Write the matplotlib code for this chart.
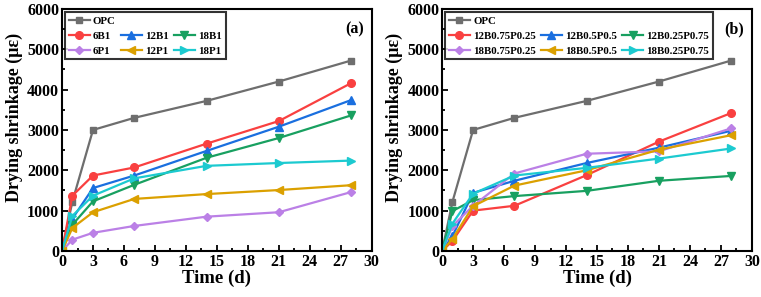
import matplotlib
matplotlib.use("Agg")
import matplotlib.pyplot as plt
from matplotlib.lines import Line2D
from matplotlib.ticker import MultipleLocator

plt.rcParams['font.family'] = ['Liberation Serif', 'DejaVu Serif']
plt.rcParams['font.weight'] = 'bold'

days = [0, 1, 3, 7, 14, 21, 28]

opc = [0, 1220, 3000, 3300, 3720, 4200, 4720]

# panel (a)
b6 = [0, 1370, 1870, 2070, 2660, 3220, 4160]
b12 = [0, 800, 1560, 1870, 2480, 3080, 3740]
b18 = [0, 650, 1230, 1640, 2310, 2800, 3360]
p6 = [0, 280, 450, 620, 850, 960, 1460]
p12 = [0, 570, 960, 1290, 1410, 1510, 1630]
p18 = [0, 870, 1370, 1800, 2110, 2180, 2240]

# panel (b)
b12_075 = [0, 250, 1000, 1120, 1880, 2710, 3420]
b12_05 = [0, 370, 1440, 1740, 2180, 2560, 2980]
b12_025 = [0, 990, 1260, 1360, 1490, 1740, 1860]
b18_075 = [0, 620, 1120, 1920, 2410, 2470, 3040]
b18_05 = [0, 300, 1110, 1620, 2000, 2510, 2870]
b18_025 = [0, 680, 1420, 1870, 2060, 2290, 2540]

labels_a = ['6B1', '12B1', '18B1', '6P1', '12P1', '18P1']
series_a = [b6, b12, b18, p6, p12, p18]
labels_b = ['12B0.75P0.25', '12B0.5P0.5', '12B0.25P0.75',
            '18B0.75P0.25', '18B0.5P0.5', '18B0.25P0.75']
series_b = [b12_075, b12_05, b12_025, b18_075, b18_05, b18_025]

colors = ['#f94040', '#1a6fdf', '#18a060', '#bb80e6', '#dba000', '#1ccad0']
markers = ['o', '^', 'v', 'D', '<', '>']


def draw(ax, labels, series, tag):
    opc_line, = ax.plot(days, opc, color='#6e6e6e', marker='s', ms=5, lw=1.6, label='OPC')
    lines = []
    for lab, ys, c, m in zip(labels, series, colors, markers):
        ms = 4.5 if m == 'D' else 5.5
        l, = ax.plot(days, ys, color=c, marker=m, ms=ms, lw=1.6, label=lab)
        lines.append(l)
    ax.set_xlim(0, 30)
    ax.set_ylim(0, 6000)
    ax.xaxis.set_major_locator(MultipleLocator(3))
    ax.xaxis.set_minor_locator(MultipleLocator(1.5))
    ax.yaxis.set_major_locator(MultipleLocator(1000))
    ax.yaxis.set_minor_locator(MultipleLocator(500))
    ax.tick_params(which='both', direction='in', width=1.3, labelsize=11.5, pad=2)
    ax.tick_params(which='major', length=4)
    ax.tick_params(which='minor', length=2)
    for s in ax.spines.values():
        s.set_linewidth(1.5)
    ax.set_xlabel('Time (d)', fontsize=13.5, fontweight='bold', labelpad=0)
    ax.set_ylabel('Drying shrinkage (\u03bc\u03b5)', fontsize=13, fontweight='bold')
    ax.yaxis.set_label_coords(-0.125, 0.55)
    ax.text(0.975, 0.95, tag, transform=ax.transAxes, ha='right', va='top',
            fontsize=11.5, fontweight='bold')

    # first legend row holds OPC alone
    blank = Line2D([], [], color='none')
    handles = [opc_line, lines[0], lines[3], blank, lines[1], lines[4], blank, lines[2], lines[5]]
    names = ['OPC', labels[0], labels[3], '', labels[1], labels[4], '', labels[2], labels[5]]
    leg = ax.legend(handles, names, ncol=3, loc='upper left', bbox_to_anchor=(0.0, 1.0),
                    fontsize=7.8, frameon=True, fancybox=False, edgecolor='black',
                    handlelength=1.9, handletextpad=0.3, columnspacing=0.5,
                    labelspacing=0.5, borderpad=0.35, borderaxespad=0.3)
    leg.get_frame().set_linewidth(1.5)


fig = plt.figure(figsize=(7.61, 2.97), dpi=100)
ax1 = fig.add_axes([0.0815, 0.155, 0.407, 0.815])
ax2 = fig.add_axes([0.581, 0.155, 0.407, 0.815])

draw(ax1, labels_a, series_a, '(a)')
draw(ax2, labels_b, series_b, '(b)')

fig.savefig('out.png', dpi=100)
